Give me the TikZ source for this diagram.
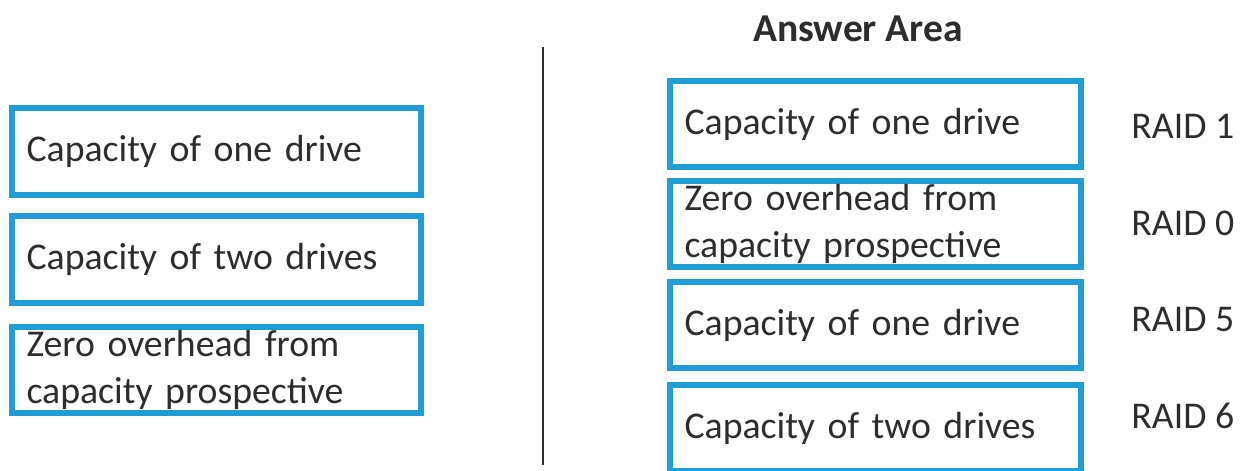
\documentclass[tikz,border=0pt]{standalone}
\usepackage{fontspec}
\setmainfont{Carlito}
\usepackage{tikz}
\usetikzlibrary{positioning}
\definecolor{boxblue}{RGB}{32,157,216}
\definecolor{inkgray}{RGB}{45,45,45}
\tikzset{
    choice/.style={
           rectangle,
           draw=boxblue, line width=0.12cm,
           minimum width=8.18cm,
           minimum height=1.74cm,
           text width=7.6cm,
           inner xsep=0.29cm,
           inner ysep=0pt,
           align=left,
           text=inkgray,
           font=\fontsize{21.5}{27}\selectfont
           },
    answer/.style={
           choice,
           minimum width=8.22cm,
           minimum height=1.72cm,
           text width=7.64cm
           },
    raid/.style={
           anchor=west,
           inner sep=0pt,
           text=inkgray,
           font=\fontsize{21.5}{27}\selectfont
           },
    heading/.style={
           inner sep=0pt,
           text=inkgray,
           font=\fontsize{22.5}{27}\selectfont\bfseries
           },
}
\begin{document}
\begin{tikzpicture}[x=0.02cm, y=-0.02cm]
  \clip (0,0) rectangle (1250,470);
  % source items
     \node[choice] (one)  at (216.5,151.5) {Capacity of one drive};
     \node[choice] (two)  at (216.5,259.5) {Capacity of two drives};
     \node[choice] (zero) at (216.5,370)   {Zero overhead from\\capacity prospective};
  % divider
     \coordinate (top) at (543,47);
     \coordinate (bot) at (543,465);
     \draw[inkgray, line width=0.9pt] (top) -- (bot);
  % answer area
     \node[heading] (title) at (858,29) {Answer Area};
     \node[answer] (ans1) at (875.5,124) {Capacity of one drive};
     \node[answer] (ans0) at (875.5,224) {Zero overhead from\\capacity prospective};
     \node[answer] (ans5) at (875.5,325) {Capacity of one drive};
     \node[answer] (ans6) at (875.5,428) {Capacity of two drives};
     \node[raid] (r1) at (1131,126) {RAID 1};
     \node[raid] (r0) at (1131,223) {RAID 0};
     \node[raid] (r5) at (1131,320) {RAID 5};
     \node[raid] (r6) at (1131,416) {RAID 6};
\end{tikzpicture}
\end{document}
